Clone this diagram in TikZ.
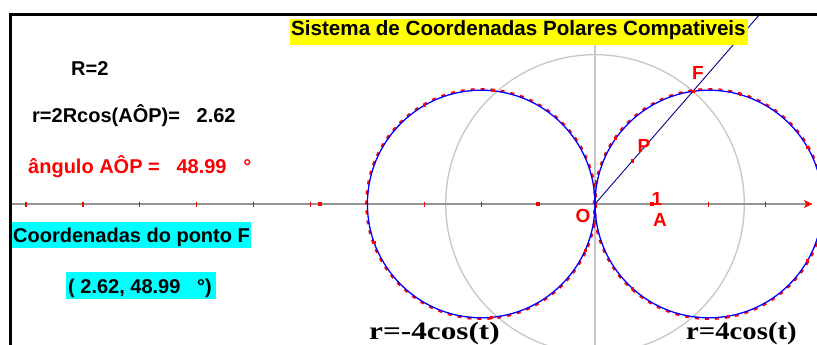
\documentclass[tikz,border=0pt]{standalone}
\usepackage{fontspec}
\usepackage{graphicx}
\usetikzlibrary{calc}
\setmainfont{Liberation Sans}
\newfontfamily\serifb{Liberation Serif}
\definecolor{cyanbox}{RGB}{0,255,255}
\definecolor{yellowbox}{RGB}{255,255,0}
\definecolor{pured}{RGB}{255,0,0}
\definecolor{pureblue}{RGB}{0,0,255}
\begin{document}
\begin{tikzpicture}[x=1pt,y=-1pt,
  lab/.style={font=\fontsize{20}{24}\selectfont\bfseries, inner sep=0, anchor=base west},
  redlab/.style={font=\fontsize{19}{22}\selectfont\bfseries, text=pured, inner sep=0},
  eqlab/.style={font=\serifb\bfseries\fontsize{25}{30}\selectfont, inner sep=0, anchor=base west},
  tickmark/.style={pured, line width=1.3pt},
  dot/.style={fill=pured, minimum size=4pt, inner sep=0, rectangle},
  trace/.style={pured, line width=2.6pt, dash pattern=on 4pt off 6pt},
  curve/.style={pureblue, line width=1.3pt},
  guide/.style={black!22, line width=1.3pt}
]
\useasboundingbox (0,0) rectangle (817,345);
\fill[white] (0,0) rectangle (817,345);
\clip (0,0) rectangle (817,345);

\coordinate (O) at (595,204);
\coordinate (C1) at (481.2,204);
\coordinate (C2) at (708.8,204);
\coordinate (axL) at (10,204);
\coordinate (axR) at (812,204);
\coordinate (vT) at (595,45);
\coordinate (vB) at (595,345);
\coordinate (E) at (760,14);

% guides
\draw[guide] (O) circle[radius=149.3];
\draw[guide] (vT) -- (vB);

% x axis
\draw[black!42, line width=1.6pt] (axL) -- (axR);
\fill[pured] (812,204) -- (804,200) -- (806,204) -- (804,208) -- cycle;
\foreach \k in {-10,...,-2,2,3}
  \draw[tickmark] ({595+56.9*\k},201.5) -- ++(0,5);

% circles
\draw[trace] (C1) circle[radius=114.7];
\draw[trace] (C2) circle[radius=114.7];
\draw[curve] (C1) circle[radius=113.8];
\draw[curve] (C2) circle[radius=113.8];

% ray
\draw[pureblue!55!black, line width=0.9pt] (O) -- (E);

% points
\node[dot] (pm1) at (538.1,204) {};
\node[dot] (pA) at (651.9,204) {};
\node[dot] (pL) at (320,204) {};
\node[dot, minimum size=3pt] (F) at (693,91.3) {};
\node[dot, minimum size=3.5pt] (P) at (632.3,161.1) {};
\node[dot, minimum size=3.5pt] (Q) at (615.6,138.7) {};
\foreach \a in {120,84,-24,-85,200}
  \node[dot, minimum size=3pt] at ($(C1)+({113.8*cos(\a)},{-113.8*sin(\a)})$) {};
\foreach \a in {74,30,228,-30,-80}
  \node[dot, minimum size=3pt] at ($(C2)+({113.8*cos(\a)},{-113.8*sin(\a)})$) {};

% point labels
\node[redlab] (lF) at (698,73) {F};
\node[redlab] (lP) at (644,146) {P};
\node[redlab] (lO) at (583,216) {O};
\node[redlab] (l1) at (657,199) {1};
\node[redlab] (lA) at (660,220) {A};

% frame
\draw[line width=3pt, line join=miter] (10.5,345) -- (10.5,15) -- (817,15);

% title
\fill[yellowbox] (290,19) rectangle (748,45);
\node[lab, font=\fontsize{20.6}{24}\selectfont\bfseries] (title) at (291,36) {Sistema de Coordenadas Polares Compativeis};

% left texts
\node[lab] (R) at (71,76) {R=2};
\node[lab] (r) at (32,122) {r=2Rcos(AÔP)=\ \ \ 2.62};
\node[lab, text=pured] (ang) at (28,173) {ângulo AÔP =\ \ \ 48.99\ \ \ °};
\fill[cyanbox] (12,222) rectangle (251,248);
\node[lab] (coordT) at (13,242) {Coordenadas do ponto F};
\fill[cyanbox] (66,272) rectangle (216,299);
\node[lab] (coordV) at (68,293) {( 2.62, 48.99\ \ \ °)};

% equations
\node[eqlab] (eq1) at (369,339) {\scalebox{1.25}[1]{r=-4cos(t)}};
\node[eqlab] (eq2) at (686,339) {\scalebox{1.15}[1]{r=4cos(t)}};
\end{tikzpicture}
\end{document}
